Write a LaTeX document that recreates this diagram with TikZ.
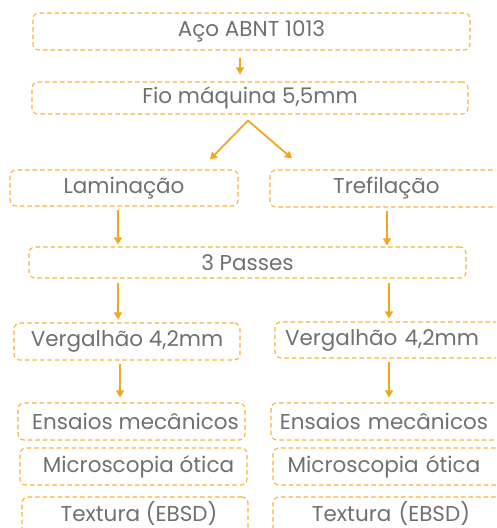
\documentclass[tikz,border=0pt]{standalone}
\usepackage{fontspec}
\setmainfont{Poppins}
\usetikzlibrary{arrows.meta,calc}
\definecolor{boxc}{HTML}{F9B233}
\definecolor{arrc}{HTML}{F2A81D}
\definecolor{txtc}{HTML}{707070}
\tikzset{
  box/.style={draw=boxc, dashed, dash pattern=on 4.5pt off 3pt, line width=1.1pt, rounded corners=6pt,
    text=txtc, font=\fontsize{21.5}{24}\selectfont, inner sep=0pt, anchor=center},
  arr/.style={draw=arrc, line width=1.8pt, -{Triangle[length=7pt,width=8pt]}}
}
\begin{document}
\begin{tikzpicture}[x=1pt,y=-1pt]
\useasboundingbox (0,0) rectangle (496,528);
\clip (0,0) rectangle (496,528);
\node[box, minimum width=437, minimum height=37] (aco) at (251.5,31.5) {Aço ABNT 1013};
\node[box, minimum width=436, minimum height=32] (fio) at (250,98) {Fio máquina 5,5mm};
\node[box, minimum width=228, minimum height=36] (lam) at (124,188) {Laminação};
\node[box, minimum width=236, minimum height=37, text width=236, align=center] (tref) at (388,188.5) {\hspace*{-3pt}Trefilação};
\node[box, minimum width=437, minimum height=31] (pas) at (247.5,262.5) {3 Passes};
\node[box, minimum width=226, minimum height=37] (vl) at (127,341.5) {Vergalhão 4,2mm};
\node[box, minimum width=236, minimum height=36, text width=236, align=center] (vr) at (393,340) {\hspace*{-22pt}Vergalhão 4,2mm};
\node[box, minimum width=227, minimum height=37] (el) at (131.5,421.5) {\hspace*{8pt}Ensaios mecânicos};
\node[box, minimum width=236, minimum height=37, text width=236, align=center] (er) at (389,421.5) {\hspace*{-10pt}Ensaios mecânicos};
\node[box, minimum width=227, minimum height=37] (ml) at (133.5,466.5) {\hspace*{10pt}Microscopia ótica};
\node[box, minimum width=236, minimum height=37, text width=236, align=center] (mr) at (391,466.5) {\hspace*{-14pt}Microscopia ótica};
\node[box, minimum width=226, minimum height=40] (tl) at (135,517) {\hspace*{8pt}\raisebox{-4pt}[0pt][0pt]{Textura (EBSD)}};
\node[box, minimum width=236, minimum height=40, text width=236, align=center] (tr) at (391,517) {\raisebox{-4pt}[0pt][0pt]{Textura (EBSD)}};
% connectors
\coordinate (apex) at ($(fio.south)+(-2,6)$);
\draw[arr, shorten <=7pt, shorten >=7pt] ([xshift=-11.5]aco.south) -- ([xshift=-10]fio.north);
\draw[arr, line cap=round] (apex) -- ($(lam.north)+(86,-10)$);
\draw[arr, line cap=round] (apex) -- ($(tref.north)+(-96,-11)$);
\draw[arr, shorten <=3pt, shorten >=2pt] ([xshift=-6]lam.south) -- ([xshift=-6]lam.south |- pas.north);
\draw[arr, shorten <=3pt, shorten >=1pt] ([xshift=-1]tref.south) -- ([xshift=-1]tref.south |- pas.north);
\draw[arr, shorten <=4pt, shorten >=3pt] ([xshift=-129.5]pas.south) -- ([xshift=-9]vl.north);
\draw[arr, shorten <=4pt, shorten >=3pt] ([xshift=141.5]pas.south) -- ([xshift=-4]vr.north);
\draw[arr, shorten <=3pt, shorten >=5pt] ([xshift=-7]vl.south) -- ([xshift=-7]vl.south |- el.north);
\draw[arr, shorten <=3pt, shorten >=5pt] ([xshift=-4]vr.south) -- ([xshift=-4]vr.south |- er.north);
\end{tikzpicture}
\end{document}
